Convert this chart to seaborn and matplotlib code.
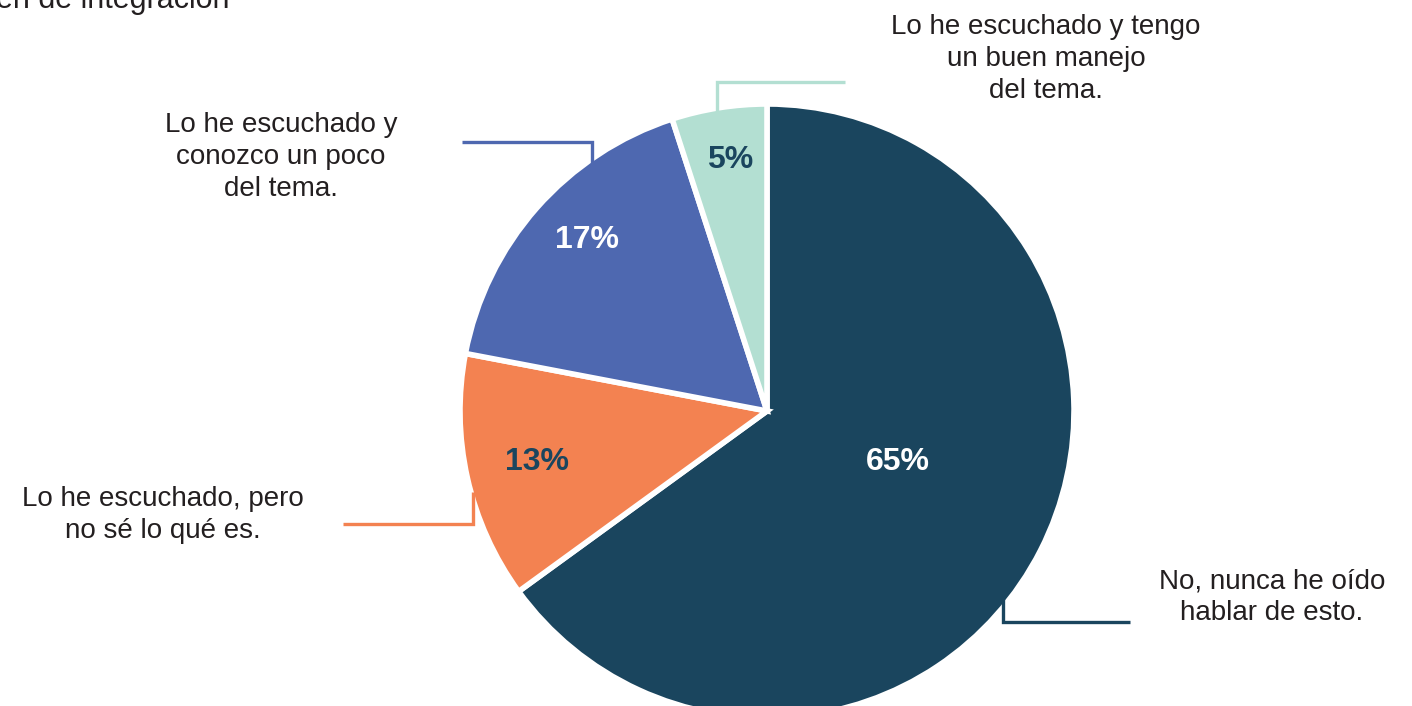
import matplotlib
matplotlib.use("Agg")
import matplotlib.pyplot as plt
import seaborn as sns

# data
categories = [
    "No, nunca he oído\nhablar de esto.",
    "Lo he escuchado, pero\nno sé lo qué es.",
    "Lo he escuchado y\nconozco un poco\ndel tema.",
    "Lo he escuchado y tengo\nun buen manejo\ndel tema.",
]
shares = [65, 13, 17, 5]
colors = ["#1a455e", "#f38251", "#4e68b0", "#b3dfd2"]
pct_colors = ["white", "#1a455e", "white", "#1a455e"]

sns.set_theme(style="white")
plt.rcParams["font.family"] = ["Liberation Sans", "DejaVu Sans"]

W, H = 1412, 706
fig = plt.figure(figsize=(W / 100, H / 100), dpi=100)
ax = fig.add_axes([0, 0, 1, 1])

cx, cy, r = 767, H - 411, 307

wedges, _, autotexts = ax.pie(
    shares, colors=colors, startangle=90, counterclock=False,
    center=(cx, cy), radius=r, frame=True,
    autopct=lambda p: f"{p:.0f}%", pctdistance=0.5,
    wedgeprops=dict(edgecolor="white", linewidth=4),
)
ax.set_xlim(0, W)
ax.set_ylim(0, H)
ax.set_aspect("equal")
ax.axis("off")

# percent label positions (px, from top)
pct_pos = [(898, 462), (537, 462), (587, 240), (730, 160)]
for t, c, (x, y) in zip(autotexts, pct_colors, pct_pos):
    t.set_position((x, H - y))
    t.set_color(c)
    t.set_fontsize(23)
    t.set_fontweight("bold")
    t.set_ha("center")
    t.set_va("center")

# leader lines (elbows) and label positions, px from top
leaders = [
    [(1003, 592), (1003, 622), (1130, 622)],
    [(473, 492), (473, 524), (343, 524)],
    [(592, 163), (592, 142), (462, 142)],
    [(717, 112), (717, 82), (845, 82)],
]
label_pos = [(1272, 597), (163, 515), (281, 157), (1046, 59)]

for pts, col, lab, (x, y) in zip(leaders, colors, categories, label_pos):
    xs = [p[0] for p in pts]
    ys = [H - p[1] for p in pts]
    ax.plot(xs, ys, color=col, lw=2.4, solid_capstyle="butt", solid_joinstyle="miter")
    ax.text(x, H - y, lab, ha="center", va="center", fontsize=20,
            color="#231f20", linespacing=1.3)

# cut-off title at the top
ax.text(-4, H - 8, "en de integración", ha="left", va="baseline",
        fontsize=22, color="#231f20")

fig.savefig("out.png", dpi=100)
